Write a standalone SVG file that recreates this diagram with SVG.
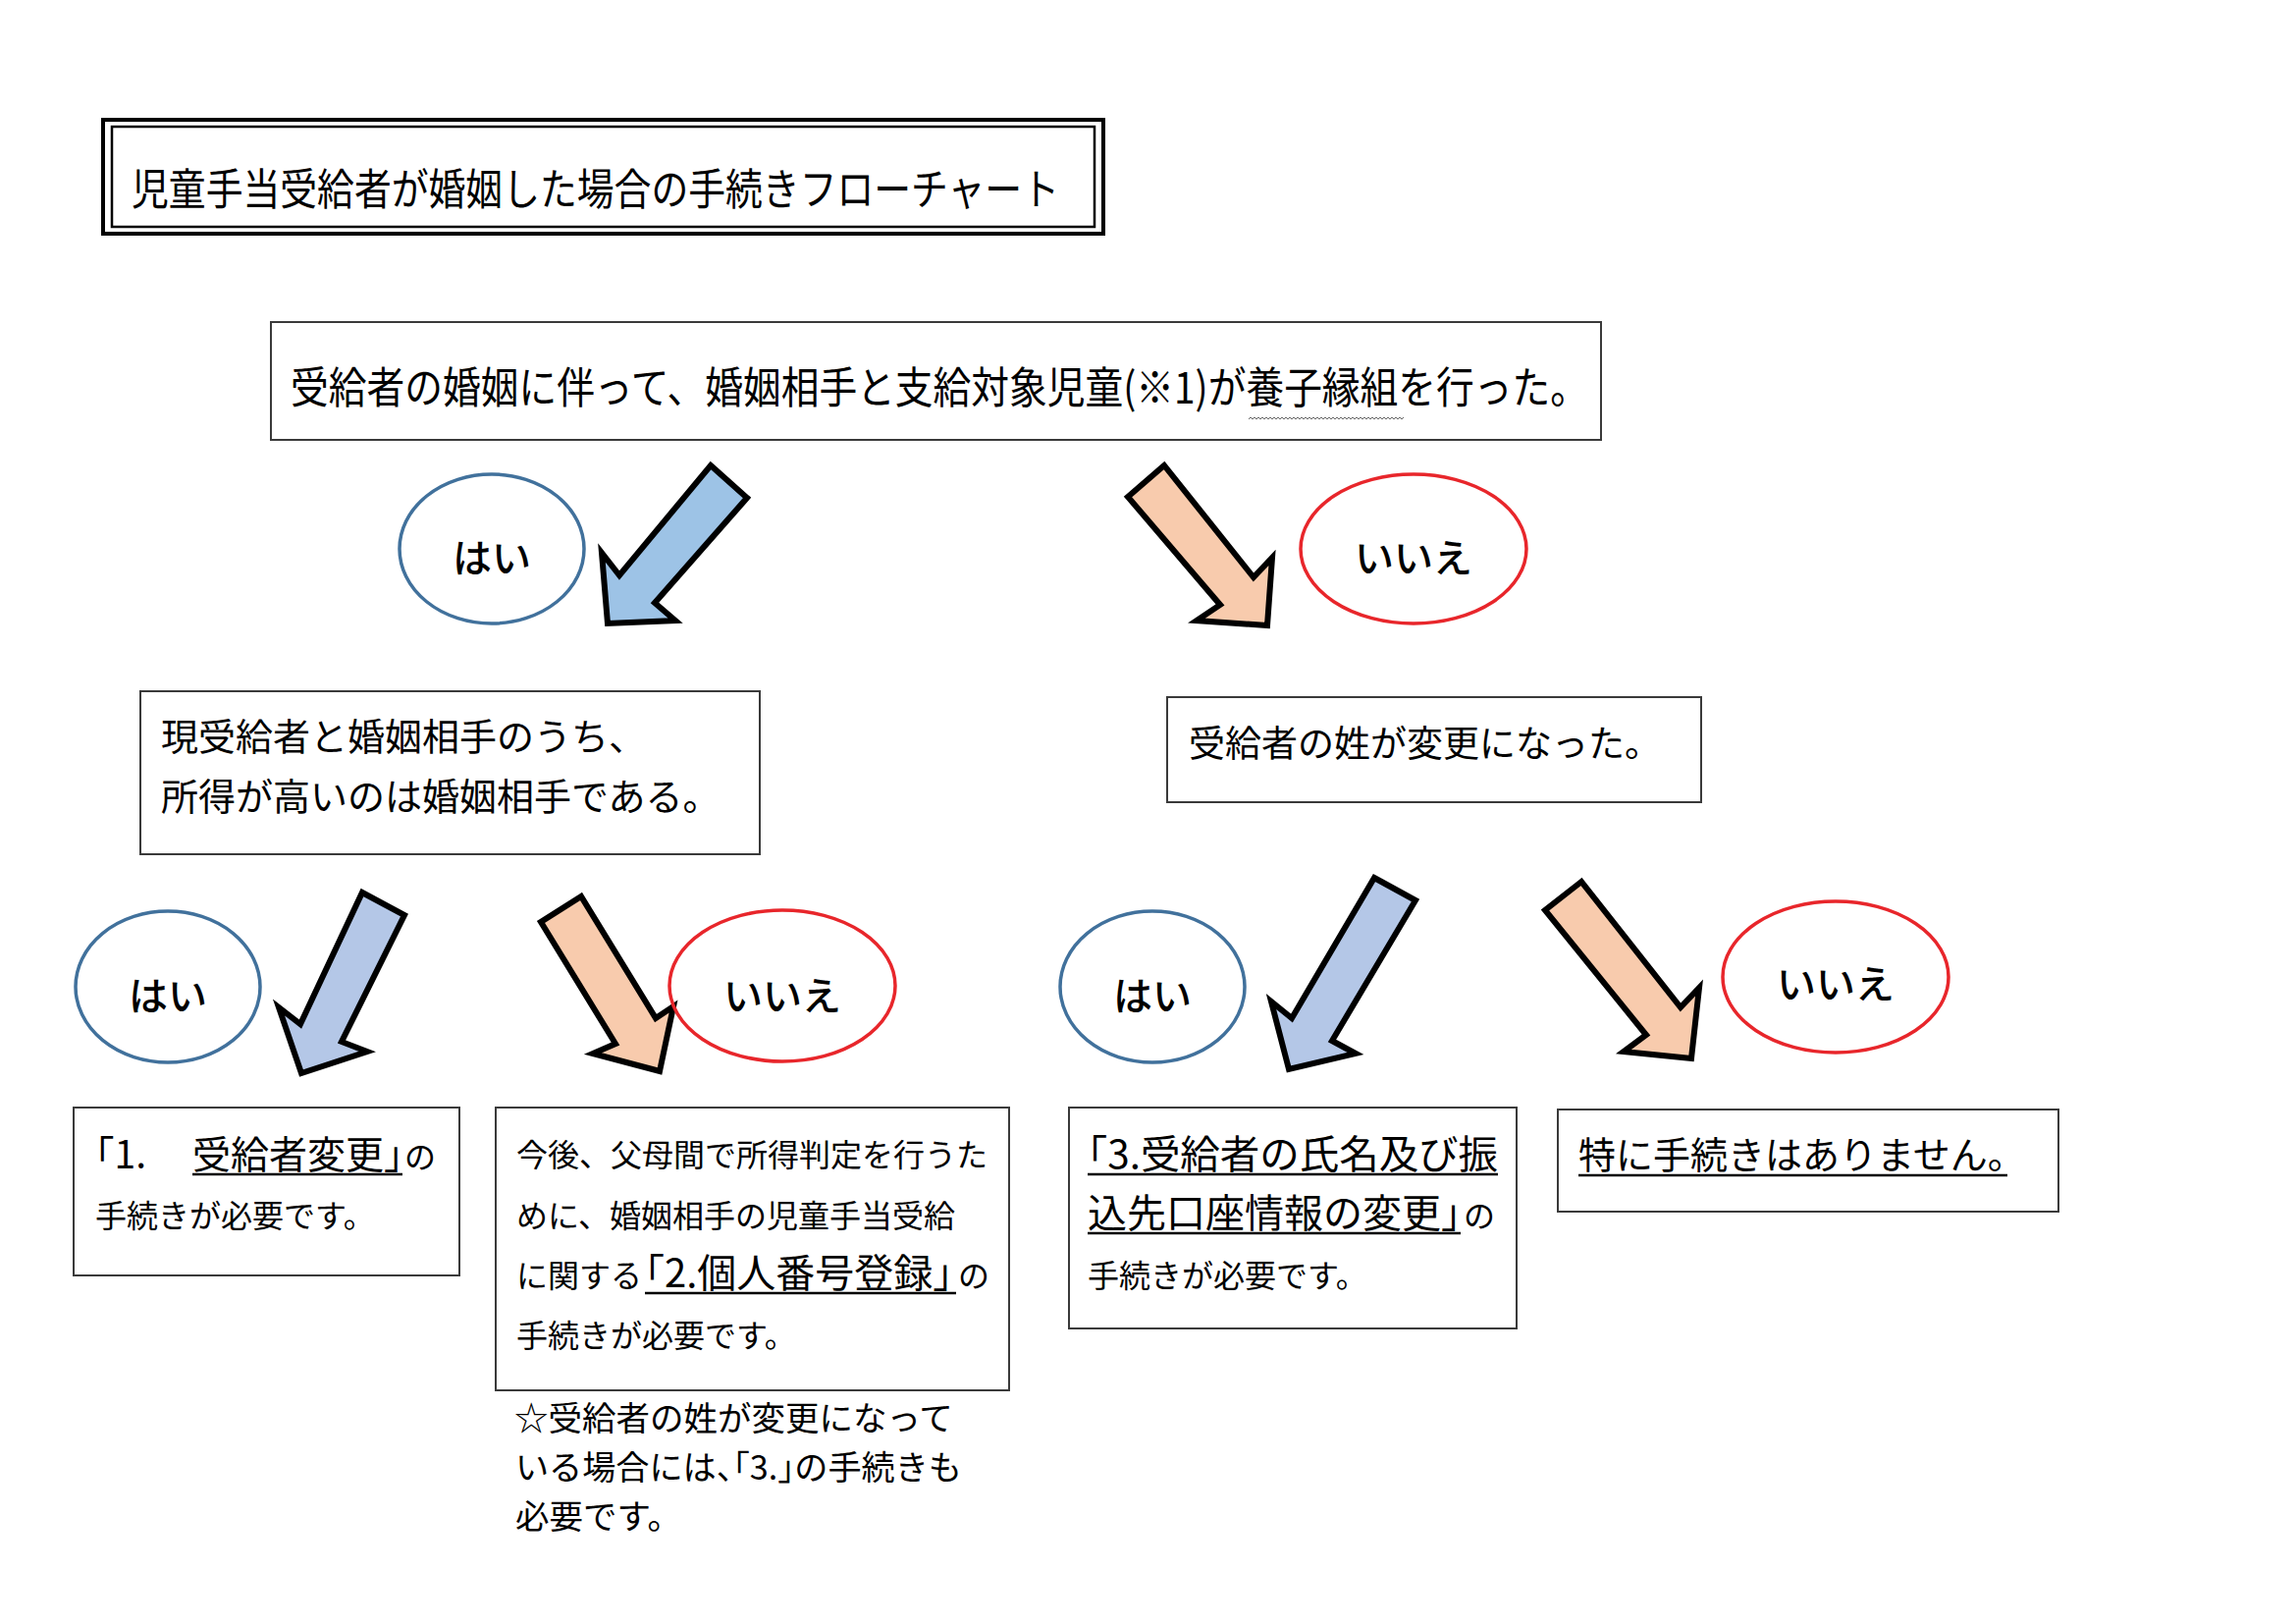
<svg xmlns="http://www.w3.org/2000/svg" width="2339" height="1654" viewBox="0 0 2339 1654">
<style>
.t{font-family:"Noto Sans CJK JP","Noto Sans",sans-serif;fill:#000}
.h{font-feature-settings:"halt" 1}
.box{fill:#fff;stroke:#3a3a3a;stroke-width:2}
.yes{fill:none;stroke:#41719c;stroke-width:3.5}
.no{fill:none;stroke:#e8262b;stroke-width:3.5}
.lbl{font-family:"Noto Sans CJK JP","Noto Sans",sans-serif;font-size:40px;font-weight:500;text-anchor:middle}
.ul{stroke:#000;stroke-width:2.5}
.ab1{fill:#9dc3e6;stroke:#000;stroke-width:6;stroke-linejoin:miter}
.ab2{fill:#b4c7e7;stroke:#000;stroke-width:6;stroke-linejoin:miter}
.ao{fill:#f8cbad;stroke:#000;stroke-width:6;stroke-linejoin:miter}
</style>
<rect width="2339" height="1654" fill="#fff"/>

<g id="title">
<rect x="105" y="122" width="1019" height="116" fill="#fff" stroke="#000" stroke-width="4"/>
<rect x="114" y="129" width="1001" height="102" fill="none" stroke="#000" stroke-width="2.5"/>
<text class="t" x="134" y="209" font-size="44" textLength="945" lengthAdjust="spacingAndGlyphs">児童手当受給者が婚姻した場合の手続きフローチャート</text>
</g>

<g id="q1">
<rect class="box" x="276" y="328" width="1355" height="120"/>
<text class="t" x="296" y="411" font-size="44" textLength="1322" lengthAdjust="spacingAndGlyphs">受給者の婚姻に伴って、婚姻相手と支給対象児童(※1)が養子縁組を行った。</text>
<path d="M1272 427 l2 -2 l2 2 l2 -2 l2 2 l2 -2 l2 2 l2 -2 l2 2 l2 -2 l2 2 l2 -2 l2 2 l2 -2 l2 2 l2 -2 l2 2 l2 -2 l2 2 l2 -2 l2 2 l2 -2 l2 2 l2 -2 l2 2 l2 -2 l2 2 l2 -2 l2 2 l2 -2 l2 2 l2 -2 l2 2 l2 -2 l2 2 l2 -2 l2 2 l2 -2 l2 2 l2 -2 l2 2 l2 -2 l2 2 l2 -2 l2 2 l2 -2 l2 2 l2 -2 l2 2 l2 -2 l2 2 l2 -2 l2 2 l2 -2 l2 2 l2 -2 l2 2 l2 -2 l2 2 l2 -2 l2 2 l2 -2 l2 2 l2 -2 l2 2 l2 -2 l2 2 l2 -2 l2 2 l2 -2 l2 2 l2 -2 l2 2 l2 -2 l2 2 l2 -2 l2 2 l2 -2 l2 2 l2 -2" fill="none" stroke="#666" stroke-width="1"/>
</g>

<g id="connectors">
<polygon class="ab1" points="724,474 761,507 667,614 688,632 619,635 613,563 631,586"/>
<polygon class="ao" points="1186,474 1149,506 1243,616 1219,632 1291,637 1296,568 1277,588"/>
<polygon class="ab2" points="369,909 412,932 348,1061 374,1071 307,1093 284,1026 306,1043"/>
<polygon class="ao" points="592,913 551,939 627,1063 604,1073 672,1091 686,1025 668,1037"/>
<polygon class="ab2" points="1400,894 1442,917 1357,1060 1381,1073 1313,1089 1295,1020 1316,1037"/>
<polygon class="ao" points="1611,898 1574,927 1677,1054 1654,1071 1723,1078 1731,1006 1712,1026"/>
</g>

<g id="yes1">
<ellipse class="yes" cx="501" cy="559" rx="94" ry="76"/>
<text class="lbl" x="501" y="583">はい</text>
</g>
<g id="no1">
<ellipse class="no" cx="1440" cy="559" rx="115" ry="76"/>
<text class="lbl" x="1440" y="583">いいえ</text>
</g>

<g id="q2">
<rect class="box" x="143" y="704" width="631" height="166"/>
<text class="t" x="164" y="764" font-size="38">現受給者と婚姻相手のうち、</text>
<text class="t" x="164" y="825" font-size="38">所得が高いのは婚姻相手である。</text>
</g>

<g id="q3">
<rect class="box" x="1189" y="710" width="544" height="107"/>
<text class="t" x="1211" y="771" font-size="37">受給者の姓が変更になった。</text>
</g>

<g id="yes2">
<ellipse class="yes" cx="171" cy="1005" rx="94" ry="77"/>
<text class="lbl" x="171" y="1029">はい</text>
</g>
<g id="no2">
<ellipse class="no" cx="797" cy="1004" rx="115" ry="77"/>
<text class="lbl" x="797" y="1029">いいえ</text>
</g>
<g id="yes3">
<ellipse class="yes" cx="1174" cy="1005" rx="94" ry="77"/>
<text class="lbl" x="1174" y="1029">はい</text>
</g>
<g id="no3">
<ellipse class="no" cx="1870" cy="995" rx="115" ry="77"/>
<text class="lbl" x="1870" y="1017">いいえ</text>
</g>

<g id="r1">
<rect class="box" x="75" y="1128" width="393" height="171"/>
<text class="t h" x="97" y="1190" font-size="39">「1.</text>
<text class="t h" x="196" y="1190" font-size="39">受給者変更」</text>
<line class="ul" x1="196" y1="1196" x2="410" y2="1196"/>
<text class="t" x="412" y="1190" font-size="32">の</text>
<text class="t" x="97" y="1250" font-size="32">手続きが必要です。</text>
</g>

<g id="r2">
<rect class="box" x="505" y="1128" width="523" height="288"/>
<text class="t" x="526" y="1188" font-size="32">今後、父母間で所得判定を行うた</text>
<text class="t" x="526" y="1250" font-size="32">めに、婚姻相手の児童手当受給</text>
<text class="t" x="526" y="1311" font-size="32">に関する</text>
<text class="t h" x="657" y="1311" font-size="40">「2.個人番号登録」</text>
<line class="ul" x1="657" y1="1317" x2="974" y2="1317"/>
<text class="t" x="976" y="1311" font-size="32">の</text>
<text class="t" x="526" y="1372" font-size="32">手続きが必要です。</text>
</g>

<g id="note">
<text class="t" x="524" y="1457" font-size="34.5">☆受給者の姓が変更になって</text>
<text class="t h" x="525" y="1507" font-size="34.5" textLength="455" lengthAdjust="spacingAndGlyphs">いる場合には、「3.」の手続きも</text>
<text class="t" x="525" y="1557" font-size="34.5">必要です。</text>
</g>

<g id="r3">
<rect class="box" x="1089" y="1128" width="456" height="225"/>
<text class="t h" x="1108" y="1190" font-size="40" textLength="418" lengthAdjust="spacingAndGlyphs">「3.受給者の氏名及び振</text>
<line class="ul" x1="1108" y1="1196" x2="1526" y2="1196"/>
<text class="t h" x="1108" y="1250" font-size="40">込先口座情報の変更」</text>
<line class="ul" x1="1108" y1="1256" x2="1488" y2="1256"/>
<text class="t" x="1491" y="1250" font-size="32">の</text>
<text class="t" x="1108" y="1311" font-size="32">手続きが必要です。</text>
</g>

<g id="r4">
<rect class="box" x="1587" y="1130" width="510" height="104"/>
<text class="t" x="1608" y="1190" font-size="38">特に手続きはありません。</text>
<line class="ul" x1="1608" y1="1197" x2="2045" y2="1197"/>
</g>
</svg>
